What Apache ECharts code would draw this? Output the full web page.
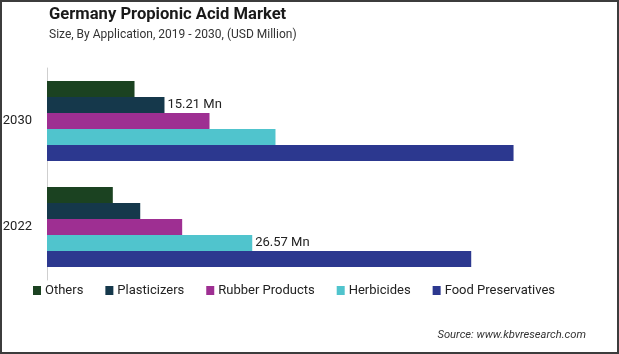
<!DOCTYPE html>
<html>
<head>
<meta charset="utf-8">
<script src="https://cdn.jsdelivr.net/npm/echarts@6/dist/echarts.min.js"></script>
<style>
html,body{margin:0;padding:0;background:#fff;}
#chart{position:absolute;left:0;top:0;width:619px;height:354px;}
#frame{position:absolute;left:0;top:0;width:619px;height:354px;box-sizing:border-box;border:2px solid #3c3c3c;pointer-events:none;}
</style>
</head>
<body>
<div id="chart"></div>
<div id="frame"></div>
<script>
const categories = ['2030', '2022'];
const seriesNames = ['Others', 'Plasticizers', 'Rubber Products', 'Herbicides', 'Food Preservatives'];
const others = [11.33, 8.52];
const plasticizers = [15.21, 12.07];
const rubberProducts = [21.04, 17.50];
const herbicides = [29.58, 26.57];
const foodPreservatives = [60.40, 54.92];
const colors = ['#1b4221', '#15384b', '#9e2f92', '#50c4cd', '#2c388f'];
const valueSets = [others, plasticizers, rubberProducts, herbicides, foodPreservatives];
// label shown: seriesIndex -> categoryIndex
const labelled = { 1: 0, 3: 1 };

const chart = echarts.init(document.getElementById('chart'));
const series = seriesNames.map((name, i) => ({
  name: name,
  type: 'bar',
  barWidth: 16,
  barGap: '0%',
  itemStyle: { color: colors[i] },
  data: valueSets[i].map((v, j) => ({
    value: v,
    label: {
      show: labelled[i] === j,
      position: 'right',
      distance: 3,
      formatter: (p) => p.value.toFixed(2) + ' Mn',
      color: '#222',
      fontFamily: 'Roboto',
      fontSize: 13
    }
  }))
}));

chart.setOption({
  animation: false,
  title: {
    text: 'Germany Propionic Acid Market',
    subtext: 'Size, By Application, 2019 - 2030, (USD Million)',
    left: 49,
    top: 6,
    padding: 0,
    itemGap: 6,
    textStyle: { fontFamily: 'Roboto', fontWeight: 'bold', fontSize: 16.6, color: '#1a1a1a' },
    subtextStyle: { fontFamily: 'Roboto', fontSize: 12, color: '#333' }
  },
  legend: {
    data: seriesNames,
    left: 33,
    top: 284,
    padding: 0,
    itemWidth: 8,
    itemHeight: 9,
    itemGap: 22,
    icon: 'rect',
    textStyle: { fontFamily: 'Roboto', fontSize: 13, color: '#222', padding: [0, 0, 0, -1] }
  },
  graphic: [{
    type: 'text',
    right: 33,
    top: 330,
    style: {
      text: 'Source: www.kbvresearch.com',
      font: 'italic 11.2px Roboto',
      fill: '#333'
    }
  }],
  grid: { left: 47, top: 68, width: 540.7, height: 212, outerBoundsMode: 'none', containLabel: false },
  xAxis: {
    type: 'value', min: 0, max: 70, show: false
  },
  yAxis: {
    type: 'category',
    data: categories,
    inverse: true,
    axisLine: { show: true, lineStyle: { color: '#cfcfcf', width: 1 } },
    axisTick: { show: false },
    axisLabel: { margin: 15, color: '#222', fontFamily: 'Roboto', fontSize: 13 }
  },
  series: series
});
</script>
</body>
</html>
